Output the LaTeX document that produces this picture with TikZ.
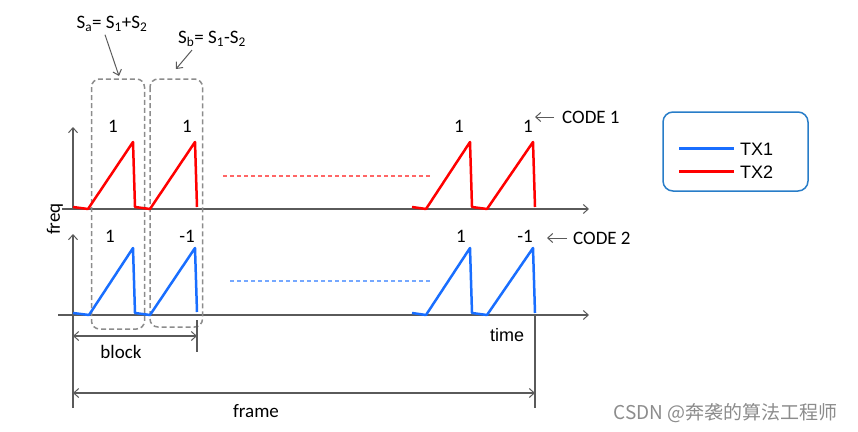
\documentclass[tikz,border=0pt]{standalone}
\usepackage{fontspec}
\setmainfont{Carlito}
\newfontfamily\arialfont{Liberation Sans}
\newfontfamily\cjkfont{Noto Sans CJK SC}
\usetikzlibrary{arrows.meta}
\definecolor{axisgray}{RGB}{90,90,90}
\definecolor{boxgray}{RGB}{140,140,140}
\definecolor{txred}{RGB}{255,0,0}
\definecolor{txblue}{RGB}{25,110,255}
\definecolor{legblue}{RGB}{40,125,200}
\begin{document}
\begin{tikzpicture}[x=1pt,y=-1pt,line join=round,
    axis/.style={draw=axisgray,line width=1.3pt},
    tip/.style={-{Straight Barb[length=5pt,width=9pt,line width=1pt]}},
    dim/.style={axis,{Straight Barb[length=5pt,width=9pt,line width=1pt]}-{Straight Barb[length=5pt,width=9pt,line width=1pt]}},
    tx1/.style={draw=txblue,line width=2.5pt},
    tx2/.style={draw=txred,line width=2.5pt},
    groupbox/.style={draw=boxgray,line width=1.5pt,dash pattern=on 5pt off 3pt,rounded corners=8pt},
    lbl/.style={inner sep=0pt,font=\fontsize{19}{21}\selectfont},
    sanslbl/.style={inner sep=0pt,font=\arialfont\fontsize{18}{21}\selectfont}]
  \useasboundingbox (0,0) rectangle (858,431);
  % axes
  \coordinate (O1) at (73,209);
  \coordinate (O2) at (73,315);
  \coordinate (foot) at (73,408);
  \draw[axis,tip] (62,209) -- (589,209);
  \draw[axis,tip] (O1) -- (73,127);
  \draw[axis,tip] (58,315) -- (589,315);
  \draw[axis,tip] (foot) -- (73,234);
  % grouping boxes
  \draw[groupbox] (91.5,79) rectangle (144.5,329);
  \draw[groupbox] (150,79) rectangle (202.5,327);
  % TX2 chirps
  \draw[tx2] (73,207) -- (88,209) -- (133,142) -- (135,207) -- (150,209) -- (195,142) -- (197,207);
  \draw[tx2] (412,207) -- (426,209) -- (470,142) -- (472,207) -- (487,209) -- (533,142) -- (535,207);
  \draw[txred!60,line width=1.3pt,dash pattern=on 4pt off 3pt] (223,176) -- (431,176);
  % TX1 chirps
  \draw[tx1] (73,313) -- (89,315) -- (133,248) -- (135,313) -- (150,315) -- (195,248) -- (197,312);
  \draw[tx1] (412,313) -- (426,315) -- (470,248) -- (472,313) -- (487,315) -- (533,248) -- (535,313);
  \draw[txblue!60,line width=1.3pt,dash pattern=on 4pt off 3pt] (230,281) -- (432,281);
  % code values
  \node[lbl] (c11) at (113,126) {1};
  \node[lbl] (c12) at (187,126) {1};
  \node[lbl] (c13) at (459,126) {1};
  \node[lbl] (c14) at (528,126) {1};
  \node[lbl] (c21) at (110,236) {1};
  \node[lbl] (c22) at (187,236) {-1};
  \node[lbl] (c23) at (461,236) {1};
  \node[lbl] (c24) at (525,236) {-1};
  \node[lbl,anchor=west] (code1) at (562,117) {CODE 1};
  \node[lbl,anchor=west] (code2) at (573,238) {CODE 2};
  \coordinate (code1Tip) at (535,117);
  \coordinate (code2Tip) at (547,238);
  \draw[axis,line width=1pt,tip] ([xshift=-8pt]code1.west) -- (code1Tip);
  \draw[axis,line width=1pt,tip] ([xshift=-6pt]code2.west) -- (code2Tip);
  % sum / difference labels
  \node[lbl] (Sa) at (112,24) {S\textsubscript{a}= S\textsubscript{1}+S\textsubscript{2}};
  \node[lbl] (Sb) at (212,39) {S\textsubscript{b}= S\textsubscript{1}-S\textsubscript{2}};
  \coordinate (SaTip) at (119,76);
  \coordinate (SbTip) at (176,69);
  \draw[axis,line width=1pt,tip] ([xshift=-7pt,yshift=-3pt]Sa.south) -- (SaTip);
  \draw[axis,line width=1pt,tip] ([xshift=-20pt,yshift=-3pt]Sb.south) -- (SbTip);
  % axis names
  \node[lbl,rotate=90] (freq) at (55,219) {freq};
  \node[sanslbl] (time) at (507,335) {time};
  % block and frame spans
  \coordinate (blockEnd) at (197,336);
  \coordinate (frameEnd) at (535,393);
  \draw[axis] (197,320) -- (197,352);
  \draw[axis] (535,315) -- (535,408);
  \draw[dim] (O2 |- blockEnd) -- (blockEnd);
  \draw[dim] (O2 |- frameEnd) -- (frameEnd);
  \node[lbl] (block) at (121,352) {block};
  \node[lbl] (frame) at (256,411) {frame};
  % legend
  \draw[draw=legblue,line width=1.5pt,rounded corners=10pt] (663,112) rectangle (808,191);
  \coordinate (leg1) at (679,148);
  \coordinate (leg2) at (679,171);
  \node[sanslbl,anchor=west] (tx1lbl) at (740,149) {TX1};
  \node[sanslbl,anchor=west] (tx2lbl) at (740,172) {TX2};
  \draw[draw=txblue,line width=3pt] (leg1) -- ++(55,0);
  \draw[draw=txred,line width=3pt] (leg2) -- ++(55,0);
  % watermark
  \node[inner sep=0pt,anchor=east,text=black!45,font=\cjkfont\fontsize{19}{21}\selectfont] (mark) at (838,413) {CSDN @奔袭的算法工程师};
\end{tikzpicture}
\end{document}
